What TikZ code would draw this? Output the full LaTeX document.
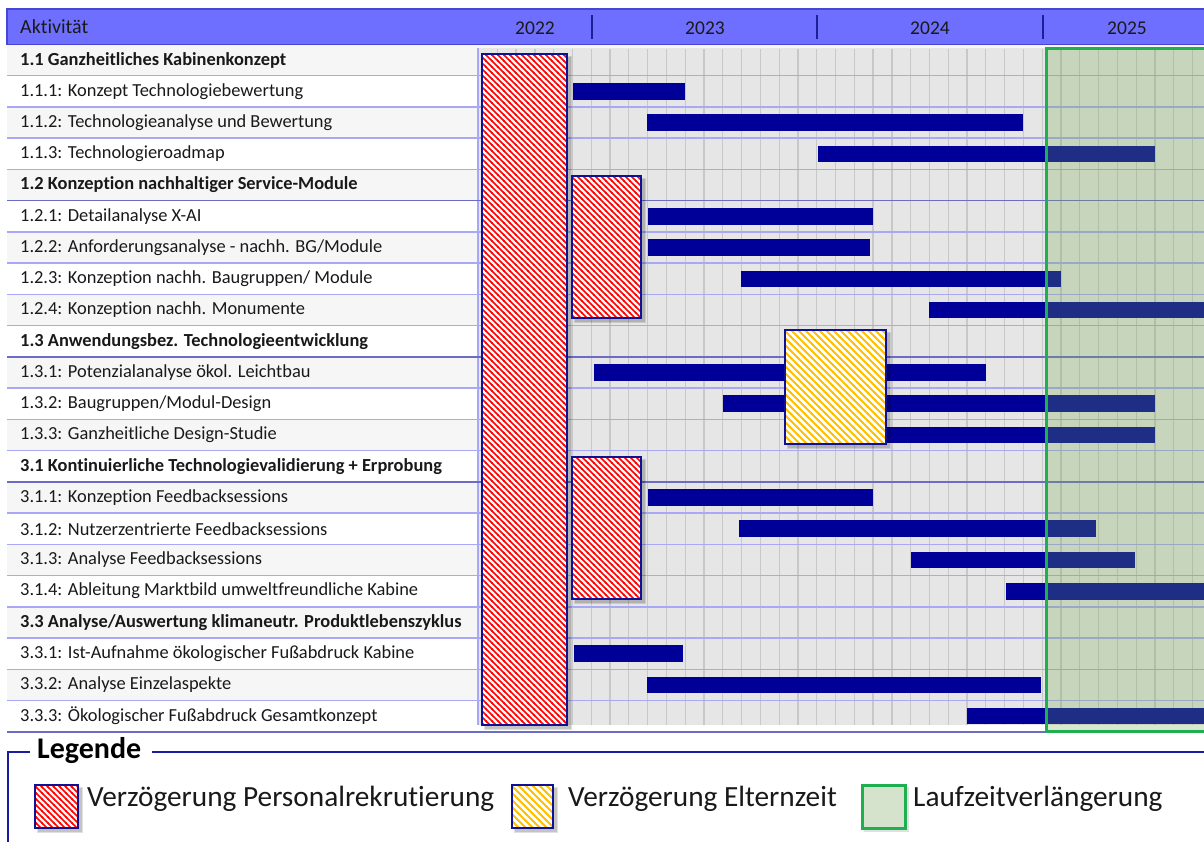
\documentclass[tikz,border=0pt]{standalone}
\usepackage{fontspec}
\setmainfont{Carlito}[RawFeature=-liga, RawFeature=-clig, RawFeature=-calt, RawFeature=-rlig, RawFeature=-dlig]
\usetikzlibrary{patterns}

\definecolor{headblue}{RGB}{111,111,255}
\definecolor{headedge}{RGB}{70,70,210}
\definecolor{divline}{RGB}{30,30,150}
\definecolor{rowgray}{RGB}{246,246,246}
\definecolor{chartbg}{RGB}{230,230,230}
\definecolor{monthline}{RGB}{200,200,200}
\definecolor{rowline}{RGB}{168,168,245}
\definecolor{secline}{RGB}{108,108,196}
\definecolor{barblue}{RGB}{0,0,153}
\definecolor{boxblue}{RGB}{16,16,150}
\definecolor{hatchred}{RGB}{255,0,0}
\definecolor{hatchyellow}{RGB}{255,192,0}
\definecolor{greenedge}{RGB}{30,176,80}
\definecolor{greenfill}{RGB}{118,170,81}
\definecolor{greenlegend}{RGB}{214,227,204}
\definecolor{legline}{RGB}{28,28,160}
\definecolor{textdark}{RGB}{25,25,25}

\pgfdeclarepatternformonly{hatchA}{\pgfqpoint{-1pt}{-1pt}}{\pgfqpoint{7pt}{7pt}}{\pgfqpoint{6pt}{6pt}}{%
  \pgfsetlinewidth{1.7pt}%
  \pgfpathmoveto{\pgfqpoint{-1pt}{7pt}}%
  \pgfpathlineto{\pgfqpoint{7pt}{-1pt}}%
  \pgfusepath{stroke}}
\pgfdeclarepatternformonly{hatchB}{\pgfqpoint{-1pt}{-1pt}}{\pgfqpoint{8pt}{8pt}}{\pgfqpoint{7pt}{7pt}}{%
  \pgfsetlinewidth{2pt}%
  \pgfpathmoveto{\pgfqpoint{-1pt}{8pt}}%
  \pgfpathlineto{\pgfqpoint{8pt}{-1pt}}%
  \pgfusepath{stroke}}

\newcommand{\ganttbar}[3]{%
  \fill[barstyle] (#2,{44.5+31.24*#1+15.62-8.3}) rectangle (#3,{44.5+31.24*#1+15.62+8.3});}
\newcommand{\delayrect}[6]{% x1 y1 x2 y2 pattern colour
  \fill[shadowstyle] (#1+2,#2+2) rectangle (#3+5,#4+5);
  \fill[shadowstyle] (#1+3,#2+3) rectangle (#3+4,#4+4);
  \fill[white] (#1,#2) rectangle (#3,#4);
  \fill[pattern=#5, pattern color=#6] (#1,#2) rectangle (#3,#4);
  \draw[boxedge] (#1,#2) rectangle (#3,#4);}

\begin{document}
\begin{tikzpicture}[x=1pt,y=-1pt,
  lbl/.style={anchor=west, inner sep=0pt, text=textdark, font=\fontsize{18.4}{20}\selectfont},
  seclbl/.style={lbl, font=\fontsize{18.4}{20}\selectfont\bfseries},
  yearlbl/.style={inner sep=0pt, text=textdark, font=\fontsize{19.5}{22}\selectfont},
  barstyle/.style={fill=barblue},
  boxedge/.style={draw=boxblue, line width=2.6pt},
  shadowstyle/.style={fill=black, opacity=0.12},
  legtext/.style={anchor=west, inner sep=0pt, text=textdark, font=\fontsize{29.3}{31}\selectfont},
  legframe/.style={draw=legline, line width=2.5pt},
  rowsep/.style={draw=rowline, line width=1.5pt},
  secsep/.style={draw=secline, line width=1.5pt},
  gridline/.style={draw=monthline, line width=1.3pt}]

\useasboundingbox (0,0) rectangle (1204,841);
\fill[white] (0,0) rectangle (1204,841);

% alternating rows
\foreach \i in {0,2,...,20}
  \fill[rowgray] (7,{44.5+31.24*\i}) rectangle (1204,{44.5+31.24*(\i+1)});
% chart background
\fill[chartbg] (478,48) rectangle (1204,725);
\foreach \m in {1,...,38}
  \draw[gridline] ({478.5+18.79*\m},49) -- ({478.5+18.79*\m},725);
\draw[rowsep] (478,48) -- (478,725);
% row separators
\foreach \i in {1,...,21}
  \draw[rowsep] (7,{44.5+31.24*\i}) -- (1204,{44.5+31.24*\i});
\foreach \i in {5,10,14}
  \draw[secsep] (7,{44.5+31.24*\i}) -- (1204,{44.5+31.24*\i});
\draw[secsep] (7,732) -- (1204,732);

% header
\draw[fill=headblue, draw=headedge, line width=1.2pt] (7,9) rectangle (1212,44.5);
\node[anchor=west, inner sep=0pt, text=textdark, font=\fontsize{20}{22}\selectfont] (hdr) at (20,27) {Aktivität};
\node[yearlbl] (y22) at (535,28) {2022};
\node[yearlbl] (y23) at (705,28) {2023};
\node[yearlbl] (y24) at (930,28) {2024};
\node[yearlbl] (y25) at (1127,28) {2025};
\foreach \x in {592,817,1043}
  \draw[divline, line width=1.2pt] (\x,15) -- (\x,39);

% labels
\node[seclbl] (r0)  at (20,{60.1+31.24*0})  {1.1 Ganzheitliches Kabinenkonzept};
\node[lbl]    (r1)  at (20,{60.1+31.24*1})  {1.1.1: Konzept Technologiebewertung};
\node[lbl]    (r2)  at (20,{60.1+31.24*2})  {1.1.2: Technologieanalyse und Bewertung};
\node[lbl]    (r3)  at (20,{60.1+31.24*3})  {1.1.3: Technologieroadmap};
\node[seclbl] (r4)  at (20,{60.1+31.24*4})  {1.2 Konzeption nachhaltiger Service-Module};
\node[lbl]    (r5)  at (20,{60.1+31.24*5})  {1.2.1: Detailanalyse X-AI};
\node[lbl]    (r6)  at (20,{60.1+31.24*6})  {1.2.2: Anforderungsanalyse - nachh. BG/Module};
\node[lbl]    (r7)  at (20,{60.1+31.24*7})  {1.2.3: Konzeption nachh. Baugruppen/ Module};
\node[lbl]    (r8)  at (20,{60.1+31.24*8})  {1.2.4: Konzeption nachh. Monumente};
\node[seclbl] (r9)  at (20,{60.1+31.24*9})  {1.3 Anwendungsbez. Technologieentwicklung};
\node[lbl]    (r10) at (20,{60.1+31.24*10}) {1.3.1: Potenzialanalyse ökol. Leichtbau};
\node[lbl]    (r11) at (20,{60.1+31.24*11}) {1.3.2: Baugruppen/Modul-Design};
\node[lbl]    (r12) at (20,{60.1+31.24*12}) {1.3.3: Ganzheitliche Design-Studie};
\node[seclbl] (r13) at (20,{60.1+31.24*13}) {3.1 Kontinuierliche Technologievalidierung + Erprobung};
\node[lbl]    (r14) at (20,{60.1+31.24*14}) {3.1.1: Konzeption Feedbacksessions};
\node[lbl]    (r15) at (20,{60.1+31.24*15}) {3.1.2: Nutzerzentrierte Feedbacksessions};
\node[lbl]    (r16) at (20,{60.1+31.24*16}) {3.1.3: Analyse Feedbacksessions};
\node[lbl]    (r17) at (20,{60.1+31.24*17}) {3.1.4: Ableitung Marktbild umweltfreundliche Kabine};
\node[seclbl] (r18) at (20,{60.1+31.24*18}) {3.3 Analyse/Auswertung klimaneutr. Produktlebenszyklus};
\node[lbl]    (r19) at (20,{60.1+31.24*19}) {3.3.1: Ist-Aufnahme ökologischer Fußabdruck Kabine};
\node[lbl]    (r20) at (20,{60.1+31.24*20}) {3.3.2: Analyse Einzelaspekte};
\node[lbl]    (r21) at (20,{60.1+31.24*21}) {3.3.3: Ökologischer Fußabdruck Gesamtkonzept};

% bars
\ganttbar{1}{573}{685}
\ganttbar{2}{647}{1023}
\ganttbar{3}{818}{1155}
\ganttbar{5}{648}{873}
\ganttbar{6}{648}{870}
\ganttbar{7}{741}{1061}
\ganttbar{8}{929}{1210}
\ganttbar{10}{594}{986}
\ganttbar{11}{723}{1155}
\ganttbar{12}{810}{1155}
\ganttbar{14}{648}{873}
\ganttbar{15}{739}{1096}
\ganttbar{16}{911}{1135}
\ganttbar{17}{1006}{1210}
\ganttbar{19}{574}{683}
\ganttbar{20}{647}{1041}
\ganttbar{21}{967}{1210}

% extension overlay
\fill[greenfill, fill opacity=0.27] (1046,48) rectangle (1212,731);
\draw[greenedge, line width=3pt] (1046,48) rectangle (1216,731);

% delay boxes
\delayrect{482}{54}{567}{725}{hatchA}{hatchred}
\delayrect{572}{176}{641}{318}{hatchA}{hatchred}
\delayrect{572}{457}{641}{599}{hatchA}{hatchred}
\delayrect{785}{330}{886}{444}{hatchB}{hatchyellow}

% legend
\node[anchor=west, inner sep=0pt, text=black, font=\fontsize{30}{32}\selectfont\bfseries] (leg) at (37,751) {Legende};
\draw[legframe] (8,845) -- (8,752) -- (30,752);
\draw[legframe] (152,752) -- (1212,752);

\delayrect{35}{785}{78}{828}{hatchA}{hatchred}
\node[legtext] (lt1) at (87,799) {Verzögerung Personalrekrutierung};
\delayrect{512}{785}{553}{828}{hatchB}{hatchyellow}
\node[legtext] (lt2) at (568,799) {Verzögerung Elternzeit};
\fill[shadowstyle] (864,787) rectangle (909,832);
\draw[fill=greenlegend, draw=greenedge, line width=3pt] (862,785) rectangle (905,828);
\node[legtext] (lt3) at (913,799) {Laufzeitverlängerung};
\end{tikzpicture}
\end{document}
